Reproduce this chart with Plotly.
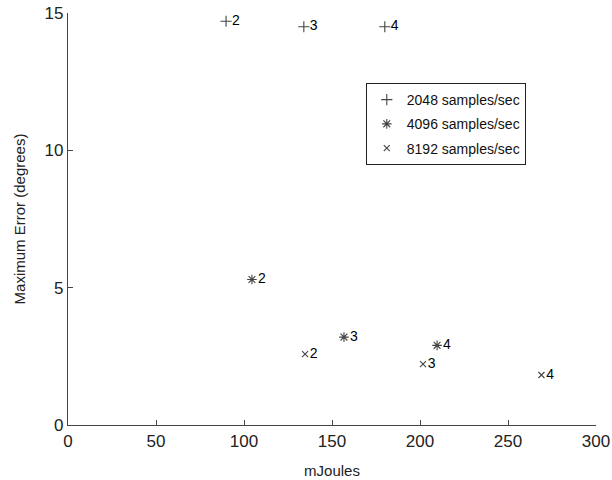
import plotly.graph_objects as go

# Data: energy (mJoules) vs maximum error (degrees); labels = configuration index
series_names = ["2048 samples/sec", "4096 samples/sec", "8192 samples/sec"]
x_2048 = [89.8, 134.0, 180.0]
y_2048 = [14.7, 14.5, 14.5]
x_4096 = [104.5, 156.8, 209.7]
y_4096 = [5.3, 3.2, 2.9]
x_8192 = [134.7, 201.7, 269.0]
y_8192 = [2.58, 2.22, 1.82]
point_labels = ["2", "3", "4"]

symbols = ["cross-thin-open", "asterisk-open", "x-thin-open"]
sizes = [8, 8, 6]

FONT = "Liberation Sans, Arial, sans-serif"

fig = go.Figure()
for i, (name, xs, ys) in enumerate(zip(series_names,
                                       [x_2048, x_4096, x_8192],
                                       [y_2048, y_4096, y_8192])):
    fig.add_trace(go.Scatter(
        x=xs, y=ys, name=name, mode="markers+text",
        text=point_labels, textposition="middle right",
        textfont=dict(family=FONT, size=14, color="#000"),
        marker=dict(symbol=symbols[i], size=sizes[i],
                    line=dict(color="#444", width=1.1), color="#444"),
        legendgroup=f"g{i}",
        cliponaxis=False,
    ))

axis_common = dict(
    showline=True, linecolor="#444", linewidth=1.2,
    ticks="inside", ticklen=5, tickcolor="#444",
    showgrid=False, zeroline=False, mirror=False, automargin=False,
    ticklabeloverflow="allow",
    tickfont=dict(family=FONT, size=17, color="#222"),
)

fig.update_layout(
    width=612, height=480,
    margin=dict(l=68, r=16, t=13, b=55),
    paper_bgcolor="white", plot_bgcolor="white",
    font=dict(family=FONT, color="#222"),
    xaxis=dict(range=[0, 300], dtick=50,
               title=dict(text="mJoules", font=dict(size=15)),
               **axis_common),
    yaxis=dict(range=[0, 15], dtick=5,
               title=dict(text="Maximum Error (degrees)", font=dict(size=15)),
               **axis_common),
    legend=dict(x=0.564, y=0.83, xanchor="left", yanchor="top",
                bordercolor="#222", borderwidth=1, bgcolor="white",
                font=dict(family=FONT, size=14, color="#111"),
                tracegroupgap=3, traceorder="grouped"),
    showlegend=True,
)

# remove the default 8px page margin so the 612x480 figure fills the window
fig.write_html("out.html", config={"displayModeBar": False},
               post_script="document.body.style.margin='0';")
